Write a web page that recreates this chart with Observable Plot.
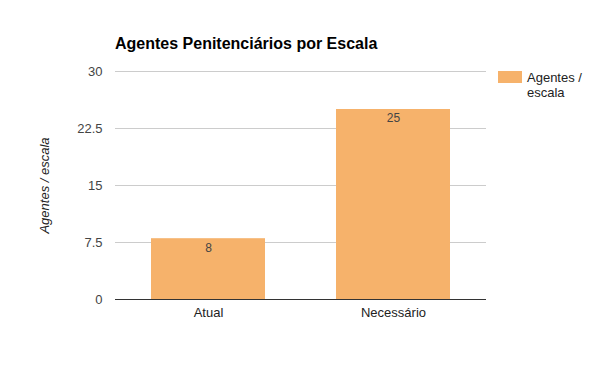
<!DOCTYPE html>
<html>
<head>
<meta charset="utf-8">
<script src="https://cdn.jsdelivr.net/npm/d3@7"></script>
<script src="https://cdn.jsdelivr.net/npm/@observablehq/plot@0.6"></script>
<style>
  body { margin: 0; background: #fff; font-family: "Liberation Sans", Arial, sans-serif; }
  #wrap { position: relative; width: 600px; height: 371px; }
  #title { position: absolute; left: 115px; top: 35px; font-size: 16px; font-weight: bold; color: #000; white-space: nowrap; }
  #legend { position: absolute; left: 498px; top: 70px; font-size: 13px; color: #222; line-height: 15px; }
  #legend .sw { position: absolute; left: 0; top: 1px; width: 24px; height: 12px; }
  #legend .tx { position: absolute; left: 29px; top: 0; width: 70px; }
  #chart { position: absolute; left: 0; top: 0; }
</style>
</head>
<body>
<div id="wrap">
  <div id="chart"></div>
  <div id="title"></div>
  <div id="legend"><div class="sw"></div><div class="tx"></div></div>
</div>
<script>
const title = "Agentes Penitenciários por Escala";
const seriesName = "Agentes / escala";
const categories = ["Atual", "Necessário"];
const values = [8, 25];
const yTicks = [0, 7.5, 15, 22.5, 30];
const barColor = "#f6b26b";

const data = categories.map((c, i) => ({cat: c, val: values[i]}));

document.getElementById("title").textContent = title;
document.querySelector("#legend .sw").style.background = barColor;
document.querySelector("#legend .tx").innerHTML = "Agentes /<br>escala";

const plot = Plot.plot({
  width: 600,
  height: 371,
  marginLeft: 115,
  marginRight: 114,
  marginTop: 71,
  marginBottom: 72,
  style: {fontFamily: "Liberation Sans, Arial, sans-serif", fontSize: "13px", background: "transparent"},
  x: {domain: categories, paddingInner: 0.385, paddingOuter: 0.195, label: null},
  y: {domain: [0, 30], ticks: yTicks, label: null},
  marks: [
    Plot.gridY(yTicks, {stroke: "#cccccc", strokeOpacity: 1}),
    Plot.barY(data, {x: "cat", y: "val", fill: barColor}),
    Plot.ruleY([0], {stroke: "#333"}),
    Plot.text(data, {x: "cat", y: "val", text: d => String(d.val), dy: 9, fill: "#444", fontSize: 12}),
    Plot.axisY(yTicks, {tickSize: 0, tickPadding: 13, fill: "#444", label: null, tickFormat: d => String(d)}),
    Plot.axisX({tickSize: 0, tickPadding: 8, fill: "#222", label: null}),
    Plot.text([seriesName], {frameAnchor: "left", dx: -71, rotate: -90, textAnchor: "middle", fontStyle: "italic", fill: "#222", fontSize: 13})
  ]
});
document.getElementById("chart").appendChild(plot);
</script>
</body>
</html>
